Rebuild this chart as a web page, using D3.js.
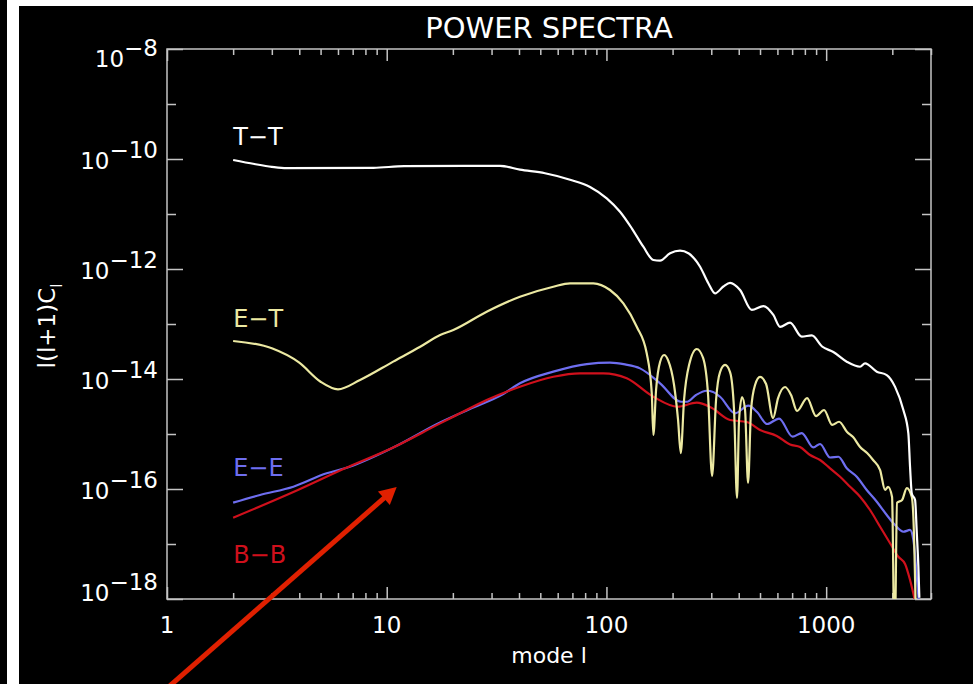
<!DOCTYPE html>
<html>
<head>
<meta charset="utf-8">
<script src="https://cdn.jsdelivr.net/npm/d3@7"></script>
<style>
  html, body { margin: 0; padding: 0; background: #000; }
  svg { display: block; }
  text { font-family: "DejaVu Sans", sans-serif; fill: #fff; }
</style>
</head>
<body>
<svg id="chart" width="976" height="684"></svg>
<script>
// Angular power spectra l(l+1)C_l against multipole l, as [l, value] pairs.
const spectrumTT = [
  [2, 9.6e-11], [2.5, 8.1e-11], [3, 7.2e-11], [3.5, 6.8e-11], [8.7, 6.9e-11],
  [12, 7.4e-11], [32.8, 7.5e-11], [40.4, 6.4e-11], [52.5, 5.5e-11], [68.3, 4.2e-11],
  [84.2, 3.1e-11], [100.3, 1.93e-11], [115.3, 1.10e-11], [130.4, 5.5e-12], [147.2, 2.54e-12],
  [163.5, 1.46e-12], [175.4, 1.42e-12], [194.8, 1.93e-12], [216.3, 2.15e-12], [236, 1.93e-12],
  [266.8, 1.10e-12], [290.9, 5.5e-13], [312.1, 3.6e-13], [340.5, 4.8e-13], [365.2, 5.6e-13],
  [405.6, 4.15e-13], [458.5, 1.80e-13], [518, 2.12e-13], [575, 1.46e-13], [617, 8.9e-14],
  [685, 1.06e-13], [774, 5.9e-14], [860, 6.2e-14], [958, 3.9e-14], [1078, 3.1e-14],
  [1241, 2.06e-14], [1427, 1.67e-14], [1503, 1.93e-14], [1700, 1.36e-14], [1887, 1.18e-14],
  [2059, 7.2e-15], [2246, 2.73e-15], [2366, 1.03e-15], [2409, 2.5e-16], [2453, 8.3e-17],
  [2539, 6.3e-17], [2585, 1.58e-17], [2628, 3.9e-18], [2656, 1.05e-18]
];

const spectrumET = [
  [2, 4.91e-14], [3, 3.61e-14], [4, 1.98e-14], [5, 8.93e-15], [6, 6.5e-15],
  [7.56, 9.6e-15], [10.7, 2.07e-14], [14.2, 3.86e-14], [17.5, 6.31e-14], [20.1, 7.78e-14],
  [28.5, 1.67e-13], [40.4, 3.13e-13], [57.3, 4.76e-13], [68.3, 5.5e-13], [87.2, 5.5e-13],
  [103.8, 4.15e-13], [119.4, 2.38e-13], [137.4, 8.93e-14], [152.5, 2.93e-14], [160.8, 5.5e-15],
  [163.5, 9.6e-16], [168.2, 6.31e-15], [175.4, 2.04e-14], [182.9, 2.73e-14], [190.7, 2.21e-14],
  [203.1, 7.78e-15], [211.8, 1.80e-15], [217.9, 4.5e-16], [225.5, 4.15e-15], [237.7, 1.80e-14],
  [257.6, 3.51e-14], [275.3, 2.41e-14], [290.1, 5.12e-15], [302.5, 1.72e-16], [315.4, 4.15e-15],
  [328.9, 1.34e-14], [346.6, 1.80e-14], [365.2, 1.34e-14], [380.9, 2.73e-15], [392.9, 6.9e-17],
  [401.4, 1.80e-15], [414.2, 4.71e-15], [427.4, 2.73e-15], [441.0, 1.29e-16], [455.1, 2.73e-15],
  [474.6, 7.78e-15], [500.1, 1.09e-14], [532.7, 8.1e-15], [573.3, 1.95e-15], [604.0, 4.5e-15],
  [650.0, 7.16e-15], [692.1, 5.12e-15], [737.1, 2.62e-15], [818.8, 4.5e-15], [899.5, 2.12e-15],
  [978.2, 2.73e-15], [1064, 1.46e-15], [1145, 1.67e-15], [1245, 1.09e-15], [1326, 8.8e-16],
  [1427, 5.8e-16], [1536, 4.5e-16], [1635, 3.37e-16], [1760, 2.21e-16], [1854, 9.6e-17],
  [1913, 1.09e-16], [1995, 7.16e-17], [2048, 1e-19], [2102, 5.6e-17], [2216, 6.31e-17],
  [2328, 1.04e-16], [2453, 7.16e-17], [2494, 3.1e-17], [2579, 1e-19]
];

const spectrumEE = [
  [2, 5.64e-17], [2.65, 7.78e-17], [3.76, 1.10e-16], [5.33, 1.93e-16], [6.46, 2.38e-16],
  [10.7, 5.69e-16], [17.5, 1.62e-15], [23.9, 2.85e-15], [33.9, 5.33e-15], [40.4, 8.35e-15],
  [57.3, 1.36e-14], [81.3, 1.87e-14], [103.8, 1.98e-14], [121.5, 1.84e-14], [142.2, 1.56e-14],
  [175.4, 8.35e-15], [218.6, 3.86e-15], [232.8, 3.86e-15], [255.7, 5.12e-15], [286.1, 6.12e-15],
  [305.7, 5.8e-15], [328.9, 4.76e-15], [384.9, 2.38e-15], [442.4, 3.27e-15], [484.7, 2.51e-15],
  [538.3, 1.52e-15], [610.4, 1.91e-15], [703.3, 8.93e-16], [774.3, 1.04e-15], [874.3, 5.69e-16],
  [937.9, 6.58e-16], [1041.6, 3.74e-16], [1136.6, 3.86e-16], [1241, 2.38e-16], [1378, 1.67e-16],
  [1530, 9.6e-17], [1700, 5.87e-17], [1887, 3.37e-17], [2059, 2.21e-17], [2246, 1.67e-17],
  [2409, 1.80e-17], [2494, 1.18e-17], [2539, 6.31e-18], [2585, 2.54e-18], [2634, 1e-18]
];

const spectrumBB = [
  [2, 3.0e-17], [3.76, 8.8e-17], [6.46, 2.38e-16], [10.7, 5.69e-16], [17.5, 1.56e-15],
  [20.1, 2.06e-15], [28.5, 4.15e-15], [40.4, 7.24e-15], [57.3, 1.10e-14], [75.8, 1.27e-14],
  [96.8, 1.27e-14], [123.7, 1.03e-14], [163.5, 4.76e-15], [210.7, 3.13e-15], [257.6, 3.71e-15],
  [299.3, 3.03e-15], [365.2, 1.80e-15], [435.1, 1.65e-15], [500.1, 1.18e-15], [595.9, 9.2e-16],
  [685, 6.44e-16], [760.7, 5.8e-16], [844.9, 4.15e-16], [937.9, 3.37e-16], [1041.6, 2.38e-16],
  [1157, 1.67e-16], [1285, 1.10e-16], [1427, 7.24e-17], [1584, 4.15e-17], [1760, 2.06e-17],
  [1954, 1.03e-17], [2131, 5.87e-18], [2286, 4.33e-18], [2409, 2.21e-18], [2526, 1e-18]
];

const seriesNames = ["T\u2212T", "E\u2212T", "E\u2212E", "B\u2212B"];
const xTickLabels = ["1", "10", "100", "1000"];
const xMajorTicks = [1, 10, 100, 1000];
const xMinorTicks = [2, 3, 4, 5, 6, 7, 8, 9, 20, 30, 40, 50, 60, 70, 80, 90,
                     200, 300, 400, 500, 600, 700, 800, 900, 2000, 3000];
const yLabelExponents = [-8, -10, -12, -14, -16, -18];
const yMinorExponents = [-9, -11, -13, -15, -17];

const svg = d3.select("#chart");
const W = 976, H = 684;
const plot = { left: 167, right: 931, top: 49, bottom: 599 };

svg.append("rect").attr("width", W).attr("height", H).attr("fill", "#000");
// slide border strips
svg.append("rect").attr("x", 7).attr("y", 0).attr("width", 12).attr("height", H).attr("fill", "#fff");
svg.append("rect").attr("x", 7).attr("y", 0).attr("width", W - 7).attr("height", 6).attr("fill", "#fff");
svg.append("rect").attr("x", 973).attr("y", 0).attr("width", 3).attr("height", H).attr("fill", "#fff");

const x = d3.scaleLog().domain([1, 3000]).range([plot.left, plot.right]);
const y = d3.scaleLog().domain([1e-18, 1e-8]).range([plot.bottom, plot.top]);

const axisColor = "#c4c4c4";

function tickAxis(axisGen, transform) {
  const g = svg.append("g").attr("transform", transform).call(axisGen);
  g.select(".domain").remove();
  g.selectAll(".tick line").attr("stroke", axisColor).attr("stroke-width", 1.5);
  g.selectAll(".tick text").remove();
  return g;
}
const noLabel = () => "";
// bottom and top (ticks point inward)
tickAxis(d3.axisBottom(x).tickValues(xMajorTicks).tickSize(-12).tickFormat(noLabel), `translate(0,${plot.bottom})`);
tickAxis(d3.axisBottom(x).tickValues(xMinorTicks).tickSize(-6).tickFormat(noLabel), `translate(0,${plot.bottom})`);
tickAxis(d3.axisTop(x).tickValues(xMajorTicks).tickSize(-12).tickFormat(noLabel), `translate(0,${plot.top})`);
tickAxis(d3.axisTop(x).tickValues(xMinorTicks).tickSize(-6).tickFormat(noLabel), `translate(0,${plot.top})`);
// left and right
const yMajor = yLabelExponents.map(e => Math.pow(10, e));
const yMinor = yMinorExponents.map(e => Math.pow(10, e));
tickAxis(d3.axisLeft(y).tickValues(yMajor).tickSize(-16).tickFormat(noLabel), `translate(${plot.left},0)`);
tickAxis(d3.axisLeft(y).tickValues(yMinor).tickSize(-9).tickFormat(noLabel), `translate(${plot.left},0)`);
tickAxis(d3.axisRight(y).tickValues(yMajor).tickSize(-16).tickFormat(noLabel), `translate(${plot.right},0)`);
tickAxis(d3.axisRight(y).tickValues(yMinor).tickSize(-9).tickFormat(noLabel), `translate(${plot.right},0)`);

// frame
svg.append("rect")
  .attr("x", plot.left).attr("y", plot.top)
  .attr("width", plot.right - plot.left).attr("height", plot.bottom - plot.top)
  .attr("fill", "none").attr("stroke", axisColor).attr("stroke-width", 1.5);

// x tick labels
svg.selectAll(".xlab").data(xMajorTicks).enter().append("text")
  .attr("x", d => x(d)).attr("y", plot.bottom + 34)
  .attr("text-anchor", "middle").attr("font-size", 23)
  .text((d, i) => xTickLabels[i]);

// y tick labels as powers of ten, end labels kept inside the axis span
yLabelExponents.forEach((e, i) => {
  const off = i === 0 ? 18 : (i === yLabelExponents.length - 1 ? 2 : 10);
  const t = svg.append("text")
    .attr("x", plot.left - 9).attr("y", y(Math.pow(10, e)) + off)
    .attr("text-anchor", "end").attr("font-size", 23);
  t.append("tspan").text("10");
  t.append("tspan").attr("dy", -11).text("\u2212" + Math.abs(e));
});

// titles
svg.append("text").attr("x", (plot.left + plot.right) / 2).attr("y", 38)
  .attr("text-anchor", "middle").attr("font-size", 29).text("POWER SPECTRA");
svg.append("text").attr("x", (plot.left + plot.right) / 2).attr("y", 663)
  .attr("text-anchor", "middle").attr("font-size", 22).text("mode l");
const yt = svg.append("text").attr("transform", "translate(55,326) rotate(-90)")
  .attr("text-anchor", "middle").attr("font-size", 23);
yt.append("tspan").text("l(l+1)C");
yt.append("tspan").attr("dy", 7).attr("font-size", 15).text("l");

// curves
svg.append("clipPath").attr("id", "plotClip").append("rect")
  .attr("x", plot.left).attr("y", plot.top)
  .attr("width", plot.right - plot.left).attr("height", plot.bottom - plot.top);

const line = d3.line()
  .x(d => x(d[0]))
  .y(d => y(d[1]))
  .curve(d3.curveMonotoneX);

const colors = { TT: "#ffffff", ET: "#ece9a2", EE: "#6e6ef0", BB: "#d0101c" };
const curves = svg.append("g").attr("clip-path", "url(#plotClip)");
[[spectrumEE, colors.EE], [spectrumBB, colors.BB], [spectrumET, colors.ET], [spectrumTT, colors.TT]]
  .forEach(([data, c]) => {
    curves.append("path").datum(data)
      .attr("d", line).attr("fill", "none")
      .attr("stroke", c).attr("stroke-width", 2.2)
      .attr("stroke-linejoin", "round");
  });

// series labels at l = 2
const labelAnchors = [1.8e-10, 8.8e-14, 1.72e-16, 4.5e-18];
const labelColors = [colors.TT, colors.ET, colors.EE, colors.BB];
seriesNames.forEach((name, i) => {
  svg.append("text").attr("x", x(2)).attr("y", y(labelAnchors[i]))
    .attr("font-size", 24).style("fill", labelColors[i]).text(name);
});

// red pointer arrow
const arrowFrom = [x(0.87), y(1.46e-20)];
const arrowTo = [x(11.1), y(1.09e-16)];
const dx = arrowTo[0] - arrowFrom[0], dy = arrowTo[1] - arrowFrom[1];
const len = Math.hypot(dx, dy);
const ux = dx / len, uy = dy / len;
const headLen = 17, headHalf = 9;
const base = [arrowTo[0] - headLen * ux, arrowTo[1] - headLen * uy];
const arrowColor = "#e02000";
svg.append("line")
  .attr("x1", arrowFrom[0]).attr("y1", arrowFrom[1])
  .attr("x2", base[0] + 2 * ux).attr("y2", base[1] + 2 * uy)
  .attr("stroke", arrowColor).attr("stroke-width", 5);
svg.append("polygon")
  .attr("points", [
    arrowTo,
    [base[0] - headHalf * uy, base[1] + headHalf * ux],
    [base[0] + headHalf * uy, base[1] - headHalf * ux]
  ].map(p => p.join(",")).join(" "))
  .attr("fill", arrowColor);
</script>
</body>
</html>
